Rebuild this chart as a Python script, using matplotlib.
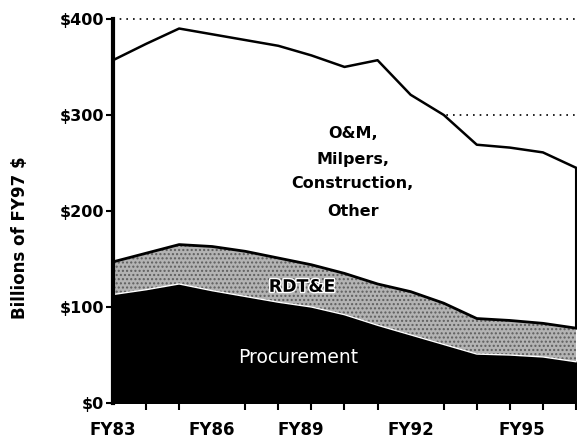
import matplotlib
matplotlib.use("Agg")
import matplotlib.pyplot as plt
import matplotlib.patheffects as pe

# fiscal years FY83..FY97
years = [83, 84, 85, 86, 87, 88, 89, 90, 91, 92, 93, 94, 95, 96, 97]
# stacked tops, billions of FY97 $
procurement = [113, 118, 124, 117, 111, 105, 100, 92, 81, 71, 61, 51, 50, 48, 43]
rdte_top = [147, 156, 165, 163, 158, 151, 144, 135, 124, 116, 104, 88, 86, 83, 78]
total = [357, 374, 390, 384, 378, 372, 362, 350, 357, 321, 300, 269, 266, 261, 245]

yticks = [0, 100, 200, 300, 400]
ytick_labels = ["$0", "$100", "$200", "$300", "$400"]
xlabel_pos = [83, 86, 88.67, 92, 95.36]
xlabel_text = ["FY83", "FY86", "FY89", "FY92", "FY95"]

fig = plt.figure(figsize=(5.77, 4.4), dpi=100)
ax = fig.add_axes([0.1958, 0.084, 0.8042, 0.873])

# dotted grid lines, hidden behind the white area
for v in yticks[1:]:
    ax.axhline(v, color="black", linestyle=(0, (1, 3)), linewidth=1.2,
               zorder=0, clip_on=False)

ax.fill_between(years, rdte_top, total, color="white", zorder=1)
ax.fill_between(years, procurement, rdte_top, facecolor="#b3b3b3",
                edgecolor="#5e5e5e", hatch="....", linewidth=0, zorder=2)
ax.fill_between(years, 0, procurement, color="black", zorder=3)
ax.plot(years, procurement, color="white", linewidth=1.0, zorder=4)
ax.plot(years, rdte_top, color="black", linewidth=2.0, zorder=4)
ax.plot(years, total, color="black", linewidth=1.8, zorder=4)
ax.plot([years[-1], years[-1]], [total[-1], rdte_top[-1]], color="black",
        linewidth=1.5, zorder=4)

ax.set_xlim(83, 97.03)
ax.set_ylim(0, 400)

for s in ["top", "right", "bottom"]:
    ax.spines[s].set_visible(False)
ax.spines["left"].set_linewidth(3)
ax.spines["left"].set_zorder(5)

ax.set_yticks(yticks)
ax.set_yticklabels(ytick_labels, fontsize=11.5, fontweight="bold")
ax.tick_params(axis="y", length=5, width=1.5, pad=1.5)

ax.set_xticks(years, minor=True)
ax.set_xticks(xlabel_pos)
ax.set_xticklabels(xlabel_text, fontsize=12, fontweight="bold")
ax.tick_params(axis="x", which="major", length=0, pad=13)
ax.tick_params(axis="x", which="minor", length=5, width=1.5)

fig.text(0.035, 0.459, "Billions of FY97 $", rotation=90, ha="center",
         va="center", fontsize=12, fontweight="bold")

om_lines = ["O&M,", "Milpers,", "Construction,", "Other"]
om_y = [281, 254, 229, 199]
for t, yy in zip(om_lines, om_y):
    ax.text(90.25, yy, t, ha="center", va="center", fontsize=11.5,
            fontweight="bold", zorder=6)

ax.text(88.72, 121, "RDT&E", ha="center", va="center", fontsize=12.5,
        fontweight="bold", zorder=6,
        path_effects=[pe.withStroke(linewidth=2, foreground="white")])
ax.text(88.6, 47, "Procurement", ha="center", va="center", fontsize=13.5,
        color="white", zorder=6)

fig.savefig("out.png", dpi=100)
